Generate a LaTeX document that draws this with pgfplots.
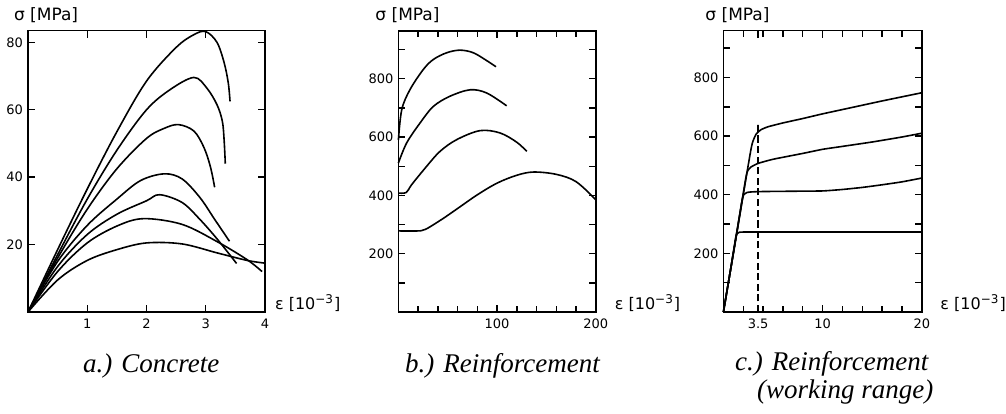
\documentclass[border=0pt]{standalone}
\usepackage{fontspec}
\setmainfont{DejaVu Sans}
\newfontfamily\capfont{Liberation Serif}
\usepackage{pgfplots}
\pgfplotsset{compat=1.18}

\pgfplotsset{
  panel/.style={
    scale only axis, anchor=south west, height=140.7pt,
    axis line style={line width=0.9pt},
    tick align=inside, major tick length=3.5pt, minor tick length=3.2pt,
    tick style={line width=0.7pt, black},
    every tick label/.append style={font=\fontsize{6.5}{7}\selectfont},
    yticklabel style={xshift=1pt},
    /pgf/number format/assume math mode=true,
    ymin=0, clip=false,
    cycle list={{black,solid,mark=none}},
    every axis plot post/.append style={line width=0.8pt, mark=none, smooth, tension=0.55},
  },
}
\newcommand{\slab}{\fontsize{8.5}{9}\selectfont σ [MPa]}
\newcommand{\elab}{\fontsize{8}{9}\selectfont ε [10\textsuperscript{−3}]}
\newcommand{\capt}{\capfont\itshape\fontsize{13.5}{16}\selectfont}

\begin{document}
\begin{tikzpicture}
\path[use as bounding box] (0,0) rectangle (503pt,206.5pt);

% a.) concrete
\begin{axis}[panel, at={(14pt,50.5pt)}, width=118.5pt,
  xmin=0, xmax=4, ymax=83.5,
  xtick={1,2,3,4}, ytick={20,40,60,80}]
\addplot coordinates {(0,0)(0.5,18.5)(1,36.5)(1.5,53.5)(2,68.5)(2.5,78.5)(2.8,82.3)(3.0,83.2)(3.19,80)(3.31,74)(3.38,68)(3.41,62.5)};
\addplot coordinates {(0,0)(0.5,17)(1,33.5)(1.5,48)(2,60)(2.4,66)(2.8,69.6)(3.02,66.4)(3.19,61.5)(3.28,56.6)(3.31,51)(3.33,44)};
\addplot coordinates {(0,0)(0.5,16)(1,30.5)(1.5,42.5)(2,51.5)(2.3,54.5)(2.54,55.6)(2.8,53.7)(2.97,48.8)(3.08,43)(3.15,37)};
\addplot coordinates {(0,0)(0.5,15)(1,25.7)(1.5,33.5)(1.9,39)(2.3,41)(2.6,39.5)(2.9,34)(3.15,27.5)(3.4,21)};
\addplot coordinates {(0,0)(0.5,13.5)(1,23)(1.5,29)(2,33)(2.22,34.8)(2.6,32.5)(2.9,27.5)(3.2,21.5)(3.52,14.4)};
\addplot coordinates {(0,0)(0.5,12)(1,20.5)(1.5,25.5)(1.95,27.7)(2.6,26)(3.2,20.8)(3.7,15.5)(3.95,12)};
\addplot coordinates {(0,0)(0.5,9.5)(1,15.3)(1.5,18.5)(2,20.5)(2.6,20.2)(3.2,17.5)(3.7,15.3)(4,14.5)};
\node[anchor=west] at (rel axis cs:0,1) [xshift=-10.5pt, yshift=7.8pt] {\slab};
\node[anchor=west] at (rel axis cs:1,0) [xshift=1.5pt, yshift=4.5pt] {\elab};
\end{axis}

% b.) reinforcement
\begin{axis}[panel, at={(199.2pt,50.5pt)}, width=98.7pt,
  xmin=0, xmax=200, ymax=965,
  xtick={100,200}, minor xtick={20,40,60,80,120,140,160,180},
  ytick={200,400,600,800}, minor ytick={100,300,500,700,900}]
\addplot coordinates {(0,278)(20,278)(25,281)(30,288)(45,320)(60,355)(80,402)(100,442)(120,469)(137,480)(160,472)(180,447)(200,385)};
\addplot coordinates {(0,408)(8,410)(13.5,437)(28.7,500)(42.2,551)(59,591)(82.7,622)(103,614)(120,582)(130,551)};
\addplot coordinates {(0,511)(8.4,580)(21.9,648)(35.4,705)(52.3,740)(72.6,762)(89.5,751)(109.7,707)};
\addplot coordinates {(0,590)(3.4,694)(11.8,763)(25.3,832)(35.4,866)(48.9,889)(62.4,898)(75.9,889)(89.5,862)(98.9,841)};
\node[anchor=west] at (rel axis cs:0,1) [xshift=-15pt, yshift=7.8pt] {\slab};
\node[anchor=west] at (rel axis cs:1,0) [xshift=6pt, yshift=4.5pt] {\elab};
\end{axis}

% c.) reinforcement, working range
\begin{axis}[panel, at={(361.7pt,50.5pt)}, width=99.2pt,
  xmin=0, xmax=20, ymax=960,
  xtick={3.5,10,20}, xticklabels={3.5,10,20},
  minor xtick={2,4,6,8,12,14,16,18},
  ytick={200,400,600,800}, minor ytick={100,300,500,700,900},
  every axis plot post/.append style={tension=0.3}]
\addplot coordinates {(0,0)(0.7,140)(1.25,255)(1.4,268)(1.6,272)(2.2,273)(4,273)(8,273)(12,273)(16,273)(20,273)};
\addplot coordinates {(0,0)(1,200)(1.85,375)(2.05,400)(2.4,408)(3,410)(4,411)(7,412)(10,413)(12,418)(14,425)(16,434)(18,444)(20,457)};
\addplot coordinates {(0,0)(1.2,240)(2.25,455)(2.45,482)(2.8,495)(3.5,507)(5,521)(8,541)(10,555)(12,565)(15,580)(18,597)(20,610)};
\addplot coordinates {(0,0)(1.4,280)(2.7,540)(2.95,580)(3.3,607)(3.8,622)(4.5,632)(6,645)(8,660)(10,676)(13,698)(16,720)(20,748)};
\addplot[black, dash pattern=on 3.5pt off 1.8pt, line width=0.7pt] coordinates {(3.5,0)(3.5,640)};
\node[anchor=west] at (rel axis cs:0,1) [xshift=-12.5pt, yshift=7.8pt] {\slab};
\node[anchor=west] at (rel axis cs:1,0) [xshift=5.8pt, yshift=4.5pt] {\elab};
\end{axis}

\node[anchor=base west] at (38pt,20.5pt) {\capt a.) Concrete};
\node[anchor=base west] at (199pt,20.5pt) {\capt b.) Reinforcement};
\node[anchor=base west] at (364pt,21.5pt) {\capt c.) Reinforcement};
\node[anchor=base west] at (375pt,7.5pt) {\capt (working range)};
\end{tikzpicture}
\end{document}
